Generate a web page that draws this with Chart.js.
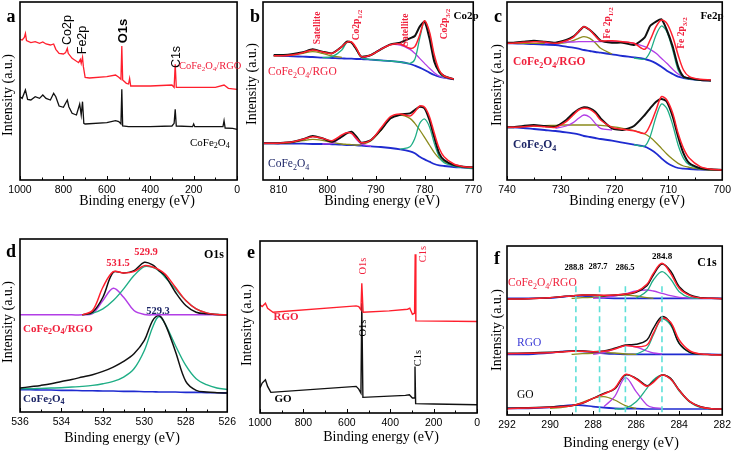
<!DOCTYPE html>
<html>
<head>
<meta charset="utf-8">
<script src="https://cdn.jsdelivr.net/npm/chart.js@4.4.1/dist/chart.umd.min.js"></script>
<style>
  body { margin: 0; background: #fff; }
  #wrap { position: relative; width: 735px; height: 455px; overflow: hidden; background: #fff; }
  canvas { position: absolute; }
</style>
</head>
<body>
<div id="wrap">
  <canvas id="pa"></canvas>
  <canvas id="pb"></canvas>
  <canvas id="pc"></canvas>
  <canvas id="pd"></canvas>
  <canvas id="pe"></canvas>
  <canvas id="pf"></canvas>
</div>
<script>
// ---- a: survey CoFe2O4/RGO and CoFe2O4 ----
const aRgoE = [1000, 990, 980, 975, 970, 950, 930, 910, 895, 880, 860, 845, 835, 820, 800, 790, 782, 778, 760, 730, 722, 718, 712, 708, 700, 680, 600, 560, 545, 535, 531, 527, 510, 500, 495, 490, 400, 300, 290, 285, 280, 200, 100, 60, 40, 0];
const aRgoI = [422, 420, 428, 440, 418, 412, 415, 410, 414, 408, 405, 408, 392, 380, 378, 382, 395, 380, 365, 352, 362, 350, 368, 340, 308, 306, 310, 315, 308, 302, 402, 300, 290, 288, 305, 282, 282, 285, 278, 347, 278, 278, 278, 285, 275, 272];
const aFeE = [1000, 990, 975, 965, 950, 930, 910, 895, 880, 860, 845, 835, 820, 800, 782, 775, 760, 740, 725, 718, 712, 706, 700, 600, 560, 545, 535, 531, 527, 500, 400, 300, 290, 285, 280, 205, 200, 195, 100, 65, 60, 55, 20, 0];
const aFeI = [250, 245, 270, 242, 240, 250, 245, 255, 245, 240, 260, 250, 222, 218, 240, 220, 200, 195, 228, 195, 235, 170, 168, 172, 178, 175, 168, 272, 162, 160, 160, 162, 170, 212, 162, 160, 168, 160, 160, 160, 178, 156, 155, 152];

// ---- b: Co2p ----
const bE = [813, 811, 809, 807, 805, 803, 801, 799, 797, 796, 795, 794, 793, 791, 789, 787, 785, 783, 782, 781, 780, 779, 778, 777, 776, 774, 772, 770];
const bRgoData = [null, 375, 375, 378, 383, 392, 385, 380, 400, 415, 412, 392, 370, 375, 392, 407, 412, 425, 432, 460, 475, 425, 355, 325, 312, 302, null, null];
const bRgoFit = [null, 373, 373, 376, 382, 390, 384, 380, 400, 413, 414, 395, 370, 375, 392, 406, 408, 395, 400, 435, 478, 445, 375, 330, 312, 303, null, null];
const bRgoBg = [null, 373, 372, 371, 370, 369, 367, 366, 365, 364, 364, 363, 363, 361, 359, 357, 354, 348, 343, 337, 330, 322, 315, 310, 307, 302, null, null];
const bRgoMain = [null, null, null, null, null, null, 367, 370, 390, 412, 413, 390, 368, 361, 359, 357, 354, 350, 362, 425, 477, 440, 368, 322, 309, 302, null, null];
const bRgoSat1 = [null, 372, 373, 375, 380, 385, 380, 372, 368, null, null, null, null, null, null, null, null, null, null, null, null, null, null, null, null, null, null, null];
const bRgoSat2 = [null, null, null, null, null, null, null, null, null, null, null, null, 364, 375, 393, 406, 405, 392, 380, 365, 350, 335, 322, 312, 307, 302, null, null];
const bFeData = [110, 110, 112, 115, 122, 132, 125, 115, 130, 140, 145, 130, 112, 120, 150, 185, 196, 200, 210, 220, 215, 180, 128, 80, 60, 45, 40, 38];
const bFeFit = [110, 110, 112, 115, 122, 130, 125, 118, 135, 142, 140, 125, 112, 120, 155, 190, 198, 192, 205, 222, 218, 190, 140, 95, 70, 48, 40, 38];
const bFeBg = [110, 110, 109, 109, 109, 108, 108, 107, 106, 105, 105, 104, 103, 101, 99, 96, 92, 86, 80, 70, 62, 55, 48, 44, 42, 39, 37, 35];
const bFeP32 = [null, null, null, null, null, null, null, null, null, null, null, null, null, null, null, null, 92, 100, 125, 170, 183, 160, 110, 70, 52, 42, 37, 35];
const bFeSat = [null, 110, 110, 113, 118, 122, 119, 113, 108, 107, 106, 105, 106, 118, 148, 185, 195, 185, 170, 150, 128, 105, 82, 65, 55, 45, 38, 35];
const bFeP12 = [null, null, null, null, null, null, 108, 110, 130, 142, 140, 122, 108, 101, null, null, null, null, null, null, null, null, null, null, null, null, null, null];

// ---- c: Fe2p ----
const cE = [740, 739, 737, 735, 733, 731, 729, 727.7, 726.7, 725.7, 724.6, 723.6, 722.6, 720.5, 718.5, 716.4, 714.4, 713.4, 712.3, 711.3, 710.3, 709.2, 708.2, 707.2, 706.1, 704.1, 702.1, 700];
const cRgoData = [412, 412, 415, 418, 415, 412, 420, 430, 445, 460, 450, 435, 418, 412, 412, 405, 428, 462, 475, 482, 450, 400, 340, 310, 305, 300, 298, null];
const cRgoFit = [410, 410, 413, 415, 414, 410, 418, 428, 445, 460, 450, 432, 418, 418, 415, 410, 392, 420, 460, 480, 470, 430, 375, 330, 310, 302, 300, null];
const cRgoBg = [410, 410, 409, 408, 406, 405, 400, 397, 394, 390, 387, 384, 382, 377, 372, 368, 363, 358, 350, 340, 328, 318, 310, 306, 303, 300, 299, null];
const cRgoP12 = [410, 410, 410, 410, 410, 410, 412, 418, 425, 430, 425, 412, 395, 378, null, null, null, null, null, null, null, null, null, null, null, null, null, null];
const cRgoSat = [null, null, null, null, 410, 412, 414, 414, 415, 415, 415, 415, 415, 415, 414, 410, 400, 392, 380, 365, 350, 332, 318, 310, 305, 300, 299, null];
const cRgoP32 = [null, null, null, null, null, null, null, null, null, null, null, null, null, null, null, 366, 363, 385, 435, 462, 445, 390, 330, 308, 303, 300, null, null];
const cFeData = [158, 158, 162, 165, 162, 160, 180, 200, 212, 218, 215, 205, 185, 155, 150, 162, 195, 215, 235, 243, 235, 190, 130, 80, 50, 35, 32, 30];
const cFeFit = [158, 158, 160, 162, 160, 158, 175, 195, 210, 215, 212, 200, 180, 158, 152, 148, 140, 165, 210, 250, 240, 200, 140, 95, 65, 40, 32, 30];
const cFeBg = [158, 158, 156, 153, 150, 147, 143, 140, 137, 132, 129, 126, 123, 118, 112, 106, 100, 92, 80, 65, 52, 42, 36, 34, 33, 31, 30, 30];
const cFeSat = [158, 158, 160, 162, 163, 164, 165, 165, 165, 165, 165, 165, 164, 160, 155, 148, 138, 128, 112, 95, 78, 62, 50, 42, 38, 33, 30, 30];
const cFeP12 = [null, null, null, null, null, 155, 162, 172, 185, 195, 188, 170, 155, 150, null, null, null, null, null, null, null, null, null, null, null, null, null, null];
const cFeP32 = [null, null, null, null, null, null, null, null, null, null, null, null, null, null, null, 106, 102, 130, 190, 228, 215, 165, 105, 65, 45, 33, null, null];

// ---- d: O1s ----
const dE = [536, 535.5, 535, 534.5, 534, 533.5, 533, 532.5, 532, 531.5, 531, 530.5, 530, 529.6, 529.3, 529, 528.5, 528, 527.5, 527, 526.5, 526];
const dRgoData = [null, null, null, null, null, null, 292, 300, 345, 420, 418, 425, 450, 442, 425, 410, 360, 320, 300, 295, 293, 292];
const dRgoFit = [null, null, null, null, null, null, 292, 305, 375, 422, 418, 422, 440, 436, 428, 415, 375, 335, 310, 298, 293, 292];
const dRgoLat = [null, null, null, null, null, null, 292, 297, 310, 335, 370, 410, 437, 435, 425, 405, 370, 335, 310, 298, 293, 292];
const dRgoOh = [292, 292, 292, 292, 292, 292, 292, 296, 335, 372, 345, 305, 293, 292, 292, 292, 292, 292, 292, 292, 292, 292];
const dFeData = [72, 76, 80, 85, 92, 98, 105, 112, 122, 135, 152, 175, 215, 275, 290, 265, 182, 92, 65, 60, 58, 57];
const dFeLat = [70, 70, 71, 72, 73, 75, 77, 80, 85, 92, 105, 130, 185, 255, 287, 265, 200, 140, 100, 82, 72, 68];
const dFeBg = [67, 67, 66, 66, 65, 65, 64, 64, 63, 63, 62, 62, 61, 61, 60, 60, 60, 59, 59, 58, 58, 57];

// ---- e: survey RGO and GO ----
const eRgoE = [1000, 990, 975, 965, 940, 557, 545, 535, 531, 525, 405, 320, 310, 298, 288, 285, 282, 0];
const eRgoI = [325, 320, 330, 315, 303, 322, 320, 310, 390, 303, 307, 312, 315, 297, 300, 477, 277, 275];
const eGoE = [1000, 990, 975, 965, 950, 557, 545, 535, 531, 526, 330, 312, 298, 289, 286, 283, 200, 0];
const eGoI = [75, 90, 100, 80, 62, 80, 72, 60, 330, 47, 53, 55, 45, 45, 140, 28, 27, 25];

// ---- f: C1s ----
const fE = [292, 291, 290, 289.5, 289, 288.5, 288, 287.5, 287, 286.5, 286, 285.5, 285.2, 284.8, 284.4, 284, 283.5, 283, 282.5, 282];
const fPeaks = [288.8, 287.7, 286.5, 284.8];
const fCfData = [348, 349, 352, 355, 357, 360, 360, 358, 360, 362, 368, 388, 420, 453, 432, 385, 360, 352, 350, 349];
const fCfFit = [348, 349, 352, 355, 357, 360, 360, 359, 360, 363, 370, 392, 425, 455, 425, 380, 358, 351, 350, 349];
const fCfCC = [null, null, null, null, null, null, null, null, null, null, 350, 372, 405, 430, 408, 370, 352, 350, null, null];
const fCfCO = [null, null, null, null, null, null, 350, 352, 357, 364, 372, 375, 372, 365, 358, 353, 351, 350, null, null];
const fCfCdO = [null, null, null, null, 350, 352, 353, 356, 358, 360, 357, 352, 350, null, null, null, null, null, null, null];
const fCfOCO = [350, 350, 351, 354, 357, 357, 354, 351, 350, 350, 350, 350, 350, 350, 350, 350, 350, 350, 350, 350];
const fRgoData = [185, 186, 188, 190, 192, 192, 190, 192, 200, 210, 212, 225, 260, 295, 275, 215, 188, 182, 181, 180];
const fRgoFit = [184, 185, 187, 189, 191, 191, 190, 191, 198, 208, 205, 210, 245, 290, 278, 225, 192, 183, 181, 180];
const fRgoCC = [null, null, null, null, null, null, null, null, null, null, 182, 200, 240, 288, 270, 215, 187, 182, null, null];
const fRgoCO = [null, null, null, null, null, null, 182, 187, 198, 208, 204, 192, 186, 183, null, null, null, null, null, null];
const fRgoCdO = [null, null, null, null, 182, 184, 185, 187, 186, 183, 182, null, null, null, null, null, null, null, null, null];
const fRgoOCO = [182, 182, 186, 190, 192, 191, 188, 185, 183, 182, 182, 182, 182, 182, 182, 182, 182, 182, 182, 181];
const fGoData = [20, 22, 24, 26, 28, 35, 50, 65, 78, 120, 110, 88, 100, 120, 110, 75, 40, 25, 19, 18];
const fGoFit = [19, 21, 23, 25, 28, 36, 50, 63, 80, 122, 108, 86, 98, 120, 108, 74, 40, 24, 19, 18];
const fGoCO = [null, null, null, null, null, null, null, 25, 55, 112, 70, 30, 22, 20, null, null, null, null, null, null];
const fGoCC = [null, null, null, null, null, null, null, null, 18, 20, 40, 80, 105, 120, 108, 72, 38, 22, 18, null];
const fGoCdO = [null, null, 20, 22, 28, 38, 50, 55, 45, 28, 20, null, null, null, null, null, null, null, null, null];
const fGoOCO = [20, 20, 23, 27, 30, 29, 25, 22, 20, 19, 19, 18, 18, 18, 18, 18, 18, 18, 18, 18];

const RED = '#ff1f2d';
const BLACK = '#111111';
const BLUE = '#1f2bd0';
const GREEN = '#1fae86';
const OLIVE = '#8b8b1c';
const PURPLE = '#b23ee6';
const LRED = '#f0203c';
const NAVY = '#1c2566';
const SERIF = '"Liberation Serif", "Times New Roman", serif';
const SANS = '"Liberation Sans", Arial, sans-serif';

function pts(xs, ys) {
  return xs.map((x, i) => ({ x: x, y: ys[i] }));
}

function line(xs, ys, color, width, tension) {
  return {
    data: pts(xs, ys),
    borderColor: color,
    borderWidth: width,
    pointRadius: 0,
    tension: tension,
    fill: false,
    spanGaps: false
  };
}

// text with _{...} subscripts, page coordinates
function drawLabel(ctx, L, ox, oy) {
  const size = L.size || 12;
  const fam = L.sans ? SANS : SERIF;
  const w = L.bold ? 'bold ' : '';
  const big = w + size + 'px ' + fam;
  const small = w + Math.round(size * 0.7) + 'px ' + fam;
  const parts = L.t.split(/(_\{[^}]*\})/).filter(s => s).map(s =>
    s.startsWith('_{') ? { s: s.slice(2, -1), sub: true } : { s: s, sub: false });
  let total = 0;
  parts.forEach(p => {
    ctx.font = p.sub ? small : big;
    p.w = ctx.measureText(p.s).width;
    total += p.w;
  });
  ctx.save();
  ctx.translate(L.x - ox, L.y - oy);
  if (L.rot) ctx.rotate(L.rot * Math.PI / 180);
  ctx.fillStyle = L.c || '#000';
  ctx.textBaseline = 'middle';
  ctx.textAlign = 'left';
  let x = L.align === 'left' ? 0 : -total / 2;
  parts.forEach(p => {
    ctx.font = p.sub ? small : big;
    ctx.fillText(p.s, x, p.sub ? size * 0.3 : 0);
    x += p.w;
  });
  ctx.restore();
}

const panels = [
  {
    id: 'pa', box: [0, 0, 244, 215], plot: [20, 2, 240, 180],
    x: [1000, 0, 200], y: [0, 534],
    sets: [
      line(aRgoE, aRgoI, RED, 1.3, 0),
      line(aFeE, aFeI, BLACK, 1.3, 0)
    ],
    labels: [
      { t: 'a', x: 11, y: 17, size: 18, bold: true },
      { t: 'Intensity (a.u.)', x: 8, y: 95, size: 14, rot: -90 },
      { t: 'Binding energy (eV)', x: 137, y: 201, size: 14 },
      { t: 'Co2p', x: 68, y: 30, size: 12.5, sans: true, rot: -90 },
      { t: 'Fe2p', x: 83, y: 40, size: 12.5, sans: true, rot: -90 },
      { t: 'O1s', x: 123, y: 31, size: 13, sans: true, bold: true, rot: -90 },
      { t: 'C1s', x: 177, y: 57, size: 12.5, sans: true, rot: -90 },
      { t: 'CoFe_{2}O_{4}/RGO', x: 179, y: 66, size: 10.5, c: LRED, align: 'left' },
      { t: 'CoFe_{2}O_{4}', x: 190, y: 143, size: 11, align: 'left' }
    ]
  },
  {
    id: 'pb', box: [244, 0, 242, 215], plot: [263, 2, 482, 180],
    x: [813.2, 770, 10], y: [0, 534],
    sets: [
      line(bE, bRgoFit, RED, 1.5, 0.3),
      line(bE, bRgoData, BLACK, 2, 0.2),
      line(bE, bRgoMain, GREEN, 1.3, 0.3),
      line(bE, bRgoSat2, PURPLE, 1.3, 0.3),
      line(bE, bRgoSat1, OLIVE, 1.3, 0.3),
      line(bE, bRgoBg, BLUE, 1.8, 0.3),
      line(bE, bFeFit, RED, 1.5, 0.3),
      line(bE, bFeData, BLACK, 2, 0.2),
      line(bE, bFeP32, GREEN, 1.3, 0.3),
      line(bE, bFeP12, PURPLE, 1.3, 0.3),
      line(bE, bFeSat, OLIVE, 1.3, 0.3),
      line(bE, bFeBg, BLUE, 1.8, 0.3)
    ],
    labels: [
      { t: 'b', x: 255, y: 17, size: 18, bold: true },
      { t: 'Intensity (a.u.)', x: 252, y: 84, size: 14, rot: -90 },
      { t: 'Binding energy (eV)', x: 382, y: 201, size: 14 },
      { t: 'Co2p', x: 466, y: 16, size: 11, bold: true },
      { t: 'Satellite', x: 318, y: 28, size: 9.5, bold: true, c: LRED, rot: -90 },
      { t: 'Co2p_{1/2}', x: 357, y: 25, size: 9.5, bold: true, c: LRED, rot: -90 },
      { t: 'Satellite', x: 406, y: 30, size: 9.5, bold: true, c: LRED, rot: -90 },
      { t: 'Co2p_{3/2}', x: 445, y: 24, size: 9.5, bold: true, c: LRED, rot: -90 },
      { t: 'CoFe_{2}O_{4}/RGO', x: 268, y: 72, size: 11.5, c: LRED, align: 'left' },
      { t: 'CoFe_{2}O_{4}', x: 268, y: 164, size: 11.5, c: NAVY, align: 'left' }
    ]
  },
  {
    id: 'pc', box: [486, 0, 249, 215], plot: [507, 2, 727, 180],
    x: [740, 700, 10], y: [0, 534],
    sets: [
      line(cE, cRgoFit, RED, 1.5, 0.3),
      line(cE, cRgoData, BLACK, 2, 0.2),
      line(cE, cRgoP32, GREEN, 1.3, 0.3),
      line(cE, cRgoSat, PURPLE, 1.3, 0.3),
      line(cE, cRgoP12, OLIVE, 1.3, 0.3),
      line(cE, cRgoBg, BLUE, 1.8, 0.3),
      line(cE, cFeFit, RED, 1.5, 0.3),
      line(cE, cFeData, BLACK, 2, 0.2),
      line(cE, cFeP32, GREEN, 1.3, 0.3),
      line(cE, cFeP12, PURPLE, 1.3, 0.3),
      line(cE, cFeSat, OLIVE, 1.3, 0.3),
      line(cE, cFeBg, BLUE, 1.8, 0.3)
    ],
    labels: [
      { t: 'c', x: 498, y: 17, size: 18, bold: true },
      { t: 'Intensity (a.u.)', x: 497, y: 85, size: 14, rot: -90 },
      { t: 'Binding energy (eV)', x: 627, y: 201, size: 14 },
      { t: 'Fe2p', x: 712, y: 16, size: 11, bold: true },
      { t: 'Fe 2p_{1/2}', x: 608, y: 23, size: 9.5, bold: true, c: LRED, rot: -90 },
      { t: 'Fe 2p_{3/2}', x: 682, y: 33, size: 9.5, bold: true, c: LRED, rot: -90 },
      { t: 'CoFe_{2}O_{4}/RGO', x: 513, y: 62, size: 11.5, bold: true, c: LRED, align: 'left' },
      { t: 'CoFe_{2}O_{4}', x: 513, y: 145, size: 11.5, bold: true, c: NAVY, align: 'left' }
    ]
  },
  {
    id: 'pd', box: [0, 215, 240, 240], plot: [20, 239, 233, 412],
    x: [536, 526, 2], y: [0, 520],
    sets: [
      line(dE, dRgoFit, RED, 1.5, 0.35),
      line(dE, dRgoData, BLACK, 1.5, 0.35),
      line(dE, dRgoLat, GREEN, 1.4, 0.35),
      line(dE, dRgoOh, PURPLE, 1.5, 0.35),
      line(dE, dFeData, BLACK, 1.5, 0.35),
      line(dE, dFeLat, GREEN, 1.4, 0.35),
      line(dE, dFeBg, BLUE, 1.6, 0.35)
    ],
    labels: [
      { t: 'd', x: 11, y: 252, size: 18, bold: true },
      { t: 'Intensity (a.u.)', x: 8, y: 322, size: 14, rot: -90 },
      { t: 'Binding energy (eV)', x: 122, y: 438, size: 14 },
      { t: 'O1s', x: 214, y: 255, size: 12, bold: true },
      { t: '531.5', x: 118, y: 263, size: 10.5, bold: true, c: LRED },
      { t: '529.9', x: 146, y: 252, size: 10.5, bold: true, c: LRED },
      { t: '529.3', x: 158, y: 311, size: 10.5, bold: true, c: NAVY },
      { t: 'CoFe_{2}O_{4}/RGO', x: 23, y: 329, size: 11, bold: true, c: LRED, align: 'left' },
      { t: 'CoFe_{2}O_{4}', x: 23, y: 399, size: 11, bold: true, c: NAVY, align: 'left' }
    ]
  },
  {
    id: 'pe', box: [240, 215, 244, 240], plot: [260, 241, 478, 413],
    x: [1000, 0, 200], y: [0, 517],
    sets: [
      line(eRgoE, eRgoI, RED, 1.4, 0),
      line(eGoE, eGoI, BLACK, 1.4, 0)
    ],
    labels: [
      { t: 'e', x: 251, y: 253, size: 18, bold: true },
      { t: 'Intensity (a.u.)', x: 247, y: 325, size: 14, rot: -90 },
      { t: 'Binding energy (eV)', x: 381, y: 437, size: 14 },
      { t: 'O1s', x: 363, y: 266, size: 10.5, c: LRED, rot: -90 },
      { t: 'C1s', x: 423, y: 254, size: 10.5, c: LRED, rot: -90 },
      { t: 'RGO', x: 286, y: 317, size: 11, bold: true, c: LRED },
      { t: 'O1s', x: 363, y: 328, size: 10.5, rot: -90 },
      { t: 'C1s', x: 418, y: 358, size: 10.5, rot: -90 },
      { t: 'GO', x: 283, y: 399, size: 11, bold: true }
    ]
  },
  {
    id: 'pf', box: [484, 215, 251, 240], plot: [507, 246, 724, 415],
    x: [292, 282, 2], y: [0, 507],
    sets: fPeaks.map(p => ({
      data: [{ x: p, y: 8 }, { x: p, y: 393 }],
      borderColor: '#5ee0d8', borderWidth: 1.6, borderDash: [6, 4], pointRadius: 0
    })).concat([
      line(fE, fCfFit, RED, 1.5, 0.35),
      line(fE, fCfData, BLACK, 1.5, 0.35),
      line(fE, fCfCC, GREEN, 1.3, 0.35),
      line(fE, fCfCO, PURPLE, 1.3, 0.35),
      line(fE, fCfCdO, OLIVE, 1.3, 0.35),
      line(fE, fCfOCO, BLUE, 1.6, 0.35),
      line(fE, fRgoFit, RED, 1.5, 0.35),
      line(fE, fRgoData, BLACK, 1.5, 0.35),
      line(fE, fRgoCC, GREEN, 1.3, 0.35),
      line(fE, fRgoCO, PURPLE, 1.3, 0.35),
      line(fE, fRgoCdO, OLIVE, 1.3, 0.35),
      line(fE, fRgoOCO, BLUE, 1.6, 0.35),
      line(fE, fGoFit, RED, 1.5, 0.35),
      line(fE, fGoData, BLACK, 1.5, 0.35),
      line(fE, fGoCC, GREEN, 1.3, 0.35),
      line(fE, fGoCO, PURPLE, 1.3, 0.35),
      line(fE, fGoCdO, OLIVE, 1.3, 0.35),
      line(fE, fGoOCO, BLUE, 1.6, 0.35)
    ]),
    labels: [
      { t: 'f', x: 497, y: 259, size: 18, bold: true },
      { t: 'Intensity (a.u.)', x: 497, y: 330, size: 14, rot: -90 },
      { t: 'Binding energy (eV)', x: 621, y: 443, size: 14 },
      { t: 'C1s', x: 707, y: 263, size: 12, bold: true },
      { t: '284.8', x: 662, y: 257, size: 9, bold: true },
      { t: '288.8', x: 574, y: 268, size: 8.5, bold: true },
      { t: '287.7', x: 598, y: 267, size: 8.5, bold: true },
      { t: '286.5', x: 625, y: 268, size: 8.5, bold: true },
      { t: 'CoFe_{2}O_{4}/RGO', x: 508, y: 283, size: 11.5, c: LRED, align: 'left' },
      { t: 'RGO', x: 517, y: 343, size: 11.5, c: '#3b3bd6', align: 'left' },
      { t: 'GO', x: 517, y: 395, size: 11.5, align: 'left' }
    ]
  }
];

// frame, inward ticks and all text
const panelText = {
  id: 'panelText',
  afterDraw(chart) {
    const p = panels.find(q => q.id === chart.canvas.id);
    const ctx = chart.ctx;
    const a = chart.chartArea;
    const xs = chart.scales.x;
    ctx.save();
    ctx.strokeStyle = '#000';
    ctx.lineWidth = 1.6;
    ctx.strokeRect(a.left, a.top, a.right - a.left, a.bottom - a.top);
    ctx.lineWidth = 1;
    const vals = xs.ticks.map(t => t.value);
    vals.forEach((v, i) => {
      const px = Math.round(xs.getPixelForValue(v)) + 0.5;
      ctx.beginPath();
      ctx.moveTo(px, a.bottom);
      ctx.lineTo(px, a.bottom - 4);
      ctx.stroke();
      if (i < vals.length - 1) {
        const mx = Math.round(xs.getPixelForValue((v + vals[i + 1]) / 2)) + 0.5;
        ctx.beginPath();
        ctx.moveTo(mx, a.bottom);
        ctx.lineTo(mx, a.bottom - 2.5);
        ctx.stroke();
      }
    });
    ctx.restore();
    p.labels.forEach(L => drawLabel(ctx, L, p.box[0], p.box[1]));
  }
};

panels.forEach(p => {
  const cv = document.getElementById(p.id);
  const [bx, by, bw, bh] = p.box;
  const [l, t, r, b] = p.plot;
  cv.width = bw;
  cv.height = bh;
  cv.style.left = bx + 'px';
  cv.style.top = by + 'px';
  cv.style.width = bw + 'px';
  cv.style.height = bh + 'px';
  const axisH = 16;
  new Chart(cv, {
    type: 'line',
    data: { datasets: p.sets },
    options: {
      responsive: false,
      animation: false,
      devicePixelRatio: 1,
      parsing: false,
      events: [],
      layout: { padding: { left: l - bx, top: t - by, right: bx + bw - r, bottom: by + bh - b - axisH } },
      plugins: { legend: { display: false }, tooltip: { enabled: false } },
      scales: {
        x: {
          type: 'linear',
          reverse: true,
          min: p.x[1],
          max: p.x[0],
          grid: { display: false, drawTicks: false },
          border: { display: false },
          ticks: {
            stepSize: p.x[2],
            includeBounds: false,
            autoSkip: false,
            maxRotation: 0,
            padding: 4,
            color: '#000',
            font: { family: SANS, size: 10.5 },
            callback: v => String(v)
          },
          afterFit: s => { s.height = axisH; }
        },
        y: { display: false, min: p.y[0], max: p.y[1] }
      }
    },
    plugins: [panelText]
  });
});
</script>
</body>
</html>
